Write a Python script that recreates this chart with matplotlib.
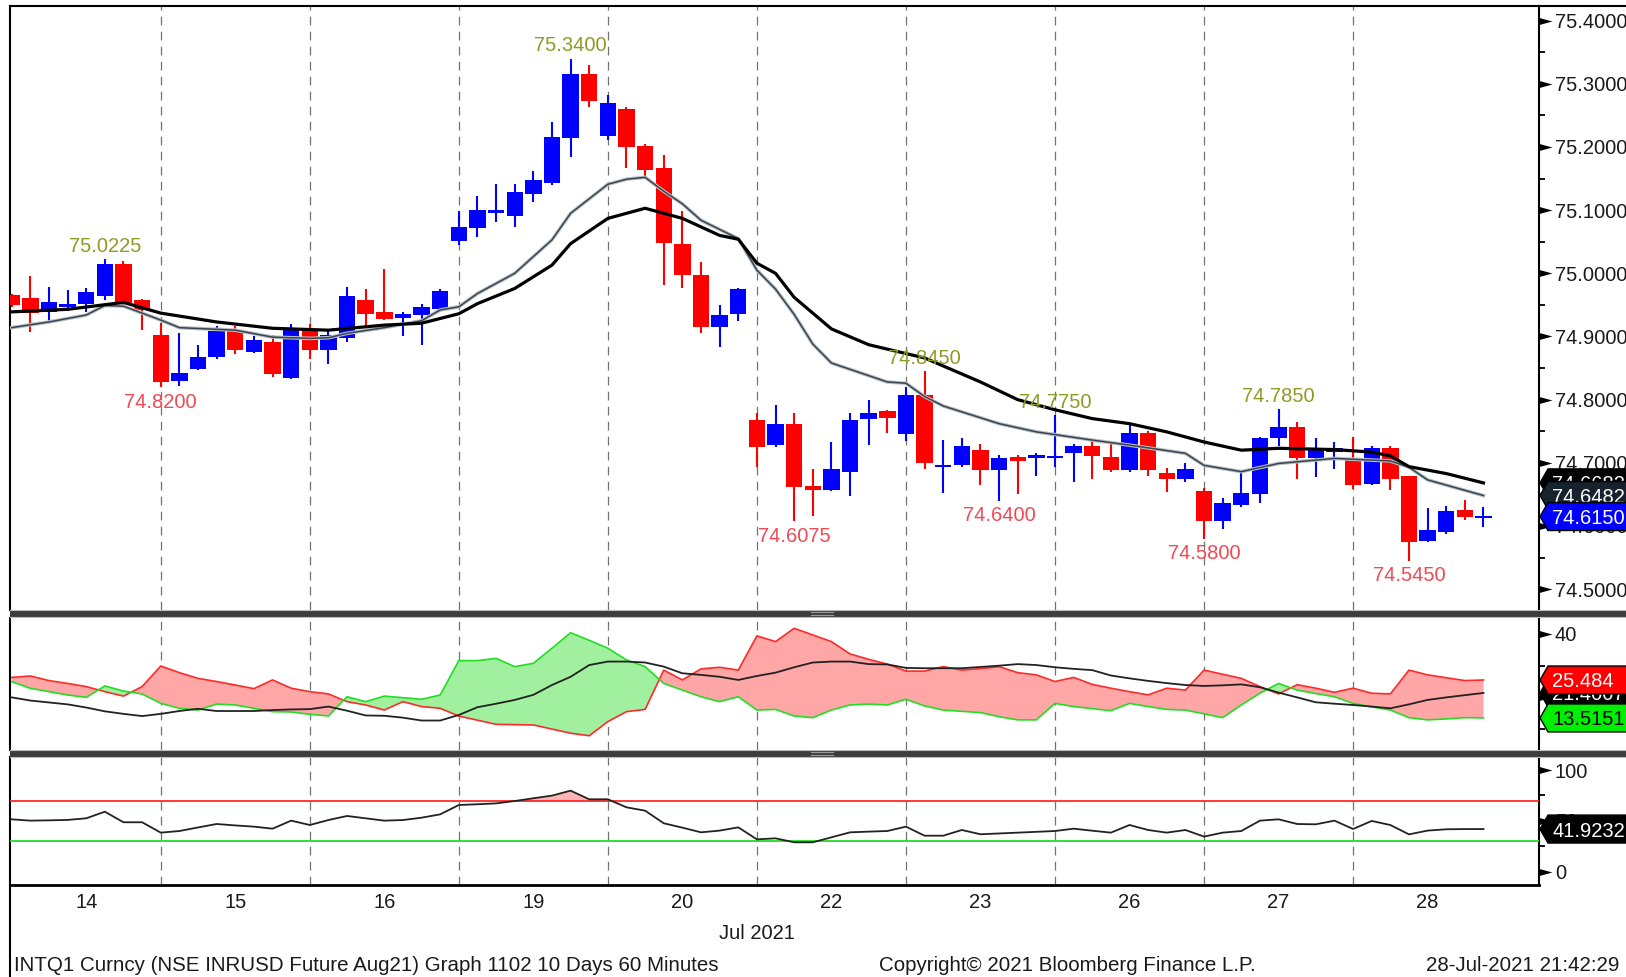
import matplotlib
matplotlib.use('Agg')
import matplotlib.pyplot as plt
import numpy as np
from matplotlib.patches import Polygon, Rectangle
from matplotlib.lines import Line2D
from matplotlib.transforms import IdentityTransform
from matplotlib.ticker import FixedLocator, FormatStrFormatter
import matplotlib.patheffects as pe

plt.rcParams['font.family'] = ['Liberation Sans', 'DejaVu Sans']

W, H = 1626, 977
FS = 14.5
FS_FOOT = 14.8

# ---- data (hourly bars, 8 per day) ----
day_labels = ['14', '15', '16', '19', '20', '22', '23', '26', '27', '28']
bars_per_day = 8

opens = [74.965, 74.961, 74.939, 74.947, 74.951, 74.964, 75.015, 74.958, 74.903, 74.830,
         74.849, 74.867, 74.909, 74.876, 74.892, 74.835, 74.910, 74.878, 74.897, 74.958,
         74.938, 74.929, 74.934, 74.944, 75.051, 75.071, 75.096, 75.091, 75.125, 75.143,
         75.215, 75.315, 75.218, 75.260, 75.202, 75.166, 75.046, 74.998, 74.915, 74.935,
         74.768, 74.728, 74.762, 74.664, 74.657, 74.685, 74.769, 74.782, 74.745, 74.808,
         74.693, 74.696, 74.721, 74.688, 74.710, 74.708, 74.708, 74.715, 74.727, 74.710,
         74.689, 74.748, 74.684, 74.674, 74.656, 74.608, 74.633, 74.651, 74.740, 74.756,
         74.708, 74.717, 74.707, 74.667, 74.724, 74.679, 74.576, 74.590, 74.626, 74.614]
highs = [74.968, 74.996, 74.979, 74.974, 74.976, 75.0225, 75.020, 74.960, 74.921, 74.906,
         74.886, 74.917, 74.917, 74.901, 74.902, 74.920, 74.920, 74.910, 74.979, 74.975,
         75.007, 74.938, 74.952, 74.975, 75.099, 75.122, 75.142, 75.142, 75.162, 75.240,
         75.340, 75.330, 75.282, 75.263, 75.205, 75.188, 75.099, 75.018, 74.950, 74.977,
         74.779, 74.791, 74.779, 74.690, 74.733, 74.779, 74.799, 74.784, 74.820, 74.845,
         74.736, 74.739, 74.730, 74.712, 74.712, 74.716, 74.775, 74.730, 74.738, 74.731,
         74.762, 74.750, 74.692, 74.699, 74.660, 74.644, 74.686, 74.741, 74.785, 74.764,
         74.740, 74.733, 74.741, 74.726, 74.726, 74.679, 74.628, 74.631, 74.641, 74.630]
lows = [74.946, 74.907, 74.924, 74.941, 74.939, 74.958, 74.948, 74.910, 74.820, 74.822,
        74.847, 74.864, 74.872, 74.874, 74.836, 74.833, 74.864, 74.857, 74.892, 74.916,
        74.926, 74.901, 74.886, 74.940, 75.045, 75.057, 75.082, 75.074, 75.113, 75.140,
        75.184, 75.264, 75.211, 75.166, 75.153, 74.981, 74.976, 74.906, 74.883, 74.924,
        74.694, 74.725, 74.6075, 74.616, 74.655, 74.648, 74.728, 74.748, 74.734, 74.691,
        74.653, 74.693, 74.665, 74.640, 74.650, 74.679, 74.693, 74.670, 74.674, 74.686,
        74.685, 74.679, 74.654, 74.670, 74.580, 74.596, 74.630, 74.637, 74.726, 74.674,
        74.677, 74.690, 74.659, 74.665, 74.657, 74.545, 74.574, 74.588, 74.610, 74.599]
closes = [74.950, 74.937, 74.955, 74.952, 74.970, 75.015, 74.952, 74.942, 74.828, 74.842,
          74.868, 74.909, 74.878, 74.895, 74.840, 74.913, 74.878, 74.903, 74.964, 74.935,
          74.928, 74.935, 74.946, 74.972, 75.073, 75.101, 75.101, 75.128, 75.148, 75.216,
          75.315, 75.273, 75.269, 75.200, 75.163, 75.048, 74.998, 74.915, 74.934, 74.975,
          74.725, 74.762, 74.662, 74.657, 74.690, 74.768, 74.779, 74.771, 74.808, 74.699,
          74.696, 74.727, 74.688, 74.707, 74.703, 74.712, 74.711, 74.727, 74.711, 74.688,
          74.748, 74.689, 74.674, 74.690, 74.608, 74.636, 74.653, 74.740, 74.756, 74.708,
          74.720, 74.724, 74.665, 74.724, 74.674, 74.575, 74.594, 74.624, 74.615, 74.615]

# moving averages (at these bars)
ma_slow_x = [0, 3, 6, 8, 11, 14, 17, 20, 22, 24, 25, 27, 29, 30, 32, 34, 36, 38, 39, 40,
             41, 42, 44, 46, 49, 52, 54, 56, 58, 60, 62, 64, 66, 68, 71, 73, 74, 75, 77, 79]
ma_slow = [74.939, 74.943, 74.954, 74.937, 74.923, 74.913, 74.910, 74.918, 74.921, 74.936,
           74.952, 74.976, 75.013, 75.047, 75.087, 75.103, 75.087, 75.060, 75.054, 75.016,
           75.000, 74.962, 74.912, 74.887, 74.866, 74.828, 74.800, 74.784, 74.770, 74.762,
           74.749, 74.733, 74.720, 74.723, 74.721, 74.717, 74.711, 74.694, 74.683, 74.6682]
ma_fast_x = [0, 2, 4, 5, 6, 8, 9, 12, 14, 16, 17, 18, 20, 22, 23, 24, 25, 27, 29, 30,
             32, 33, 34, 35, 36, 37, 39, 40, 41, 42, 43, 44, 47, 48, 49, 50, 53, 55, 58, 60,
             63, 64, 66, 68, 71, 74, 75, 76, 79]
ma_fast = [74.914, 74.923, 74.934, 74.949, 74.948, 74.926, 74.914, 74.910, 74.899, 74.897,
           74.898, 74.905, 74.914, 74.925, 74.942, 74.947, 74.968, 75.000, 75.053, 75.095,
           75.141, 75.149, 75.152, 75.130, 75.110, 75.084, 75.055, 75.005, 74.975, 74.935,
           74.888, 74.858, 74.828, 74.826, 74.805, 74.790, 74.762, 74.749, 74.736, 74.728,
           74.715, 74.696, 74.686, 74.699, 74.707, 74.703, 74.693, 74.673, 74.6482]

hi_bars = [5, 30, 49, 56, 68]
lo_bars = [8, 42, 53, 64, 75]

# DMI panel
di_plus = [26.3, 26.75, 25.3, 24.4, 23.4, 21.8, 20.4, 23.4, 29.9, 27.8,
           26.0, 25.0, 23.9, 22.75, 25.5, 22.9, 21.8, 21.1, 18.65, 17.6,
           16.0, 18.65, 17.1, 16.55, 14.1, 12.8, 11.5, 11.4, 11.3, 10.0,
           8.7, 7.9, 12.35, 15.5, 16.2, 28.6, 25.5, 29.0, 29.5, 28.6,
           39.4, 37.6, 41.8, 39.7, 37.6, 33.7, 32.0, 30.5, 28.3, 28.3,
           29.7, 28.6, 29.1, 29.7, 27.8, 27.1, 25.0, 26.3, 24.1, 22.9,
           21.8, 20.8, 22.9, 22.3, 28.6, 27.3, 26.0, 23.4, 21.1, 24.0,
           22.9, 21.6, 22.9, 21.3, 21.1, 28.6, 27.1, 26.2, 25.3, 25.484]
di_minus = [24.96, 22.86, 21.8, 20.76, 20.0, 23.6, 22.0, 21.07, 18.13, 16.55,
            16.0, 17.9, 17.6, 16.55, 15.5, 15.4, 14.66, 14.13, 20.2, 18.65,
            20.4, 19.9, 19.4, 20.76, 31.6, 31.6, 32.3, 29.7, 30.75, 35.5,
            40.4, 38.0, 35.5, 31.8, 29.7, 24.4, 22.3, 20.2, 18.65, 20.2,
            16.0, 16.2, 14.13, 13.6, 16.0, 17.6, 17.9, 17.6, 19.4, 17.3,
            16.0, 15.6, 15.2, 13.9, 12.9, 12.9, 18.1, 17.1, 16.45, 15.8,
            18.1, 17.1, 16.2, 16.0, 14.8, 13.6, 17.6, 21.3, 24.4, 22.3,
            21.2, 20.2, 18.1, 17.0, 16.0, 13.6, 12.9, 13.2, 13.6, 13.5151]
adx = [20.0, 19.0, 18.4, 17.8, 16.8, 15.6, 14.8, 14.1, 14.8, 15.7,
       16.4, 15.7, 15.7, 15.7, 16.0, 16.2, 16.3, 17.1, 15.8, 14.3,
       14.2, 13.6, 12.7, 12.7, 14.45, 16.9, 18.0, 19.2, 20.8, 23.9,
       26.5, 30.2, 31.3, 31.3, 31.0, 29.7, 27.6, 27.1, 26.5, 25.5,
       26.75, 27.8, 29.5, 31.0, 31.3, 31.3, 30.5, 30.4, 29.3, 29.2,
       29.2, 29.2, 29.6, 30.0, 30.5, 30.2, 29.5, 29.0, 28.6, 26.9,
       26.0, 25.2, 24.5, 23.9, 23.6, 23.8, 24.1, 23.2, 21.5, 20.0,
       18.45, 18.0, 17.6, 17.1, 16.55, 17.8, 19.2, 20.0, 20.7, 21.4007]

# RSI panel
rsi = [51.5, 50.2, 50.5, 50.9, 52.5, 59.0, 48.6, 48.6, 38.4, 40.0,
       43.5, 46.9, 45.5, 44.3, 42.3, 50.2, 45.9, 50.8, 54.8, 52.5,
       50.2, 50.8, 53.1, 56.4, 65.6, 66.3, 67.2, 69.5, 72.2, 74.8,
       79.7, 71.2, 71.2, 63.3, 60.0, 47.6, 43.3, 38.7, 40.4, 43.6,
       31.8, 32.8, 28.9, 28.9, 33.8, 38.7, 39.4, 40.0, 44.3, 35.4,
       35.4, 41.0, 36.8, 37.6, 38.4, 39.2, 40.0, 42.3, 40.3, 38.4,
       45.9, 41.0, 38.4, 41.0, 34.5, 38.4, 40.0, 50.2, 51.5, 46.9,
       46.6, 50.2, 42.0, 49.9, 45.9, 36.7, 40.4, 41.7, 41.9, 41.9232]
rsi_hi, rsi_lo = 70, 30

footer_left = 'INTQ1 Curncy (NSE INRUSD Future Aug21) Graph 1102 10 Days 60 Minutes'
footer_mid = 'Copyright\u00a9 2021 Bloomberg Finance L.P.'
footer_right = '28-Jul-2021 21:42:29'

# ---- figure layout (pixels) ----
fig = plt.figure(figsize=(W / 100, H / 100), dpi=100)
L, R = 10.4, 1539.0


def add_ax(top, bottom):
    return fig.add_axes([L / W, 1 - bottom / H, (R - L) / W, (bottom - top) / H])


ax1 = add_ax(5.5, 610)
ax2 = add_ax(617.5, 750)
ax3 = add_ax(757, 885)

n = len(opens)
x = np.arange(n)
O, Hh, Lo, C = map(np.array, (opens, highs, lows, closes))
for ax in (ax1, ax2, ax3):
    ax.set_xlim(-0.07, 81.98)
    for k in range(1, len(day_labels)):
        ax.axvline(k * bars_per_day, color='#737373', lw=0.9, dashes=(7, 5), zorder=1)
    for s in ax.spines.values():
        s.set_visible(False)
    ax.spines['left'].set_visible(True)
    ax.spines['right'].set_visible(True)
    ax.spines['left'].set_linewidth(1.5)
    ax.spines['right'].set_linewidth(1.5)
    ax.tick_params(axis='x', which='both', length=0, labelbottom=False)
ax1.spines['top'].set_visible(True)
ax1.spines['top'].set_linewidth(1.5)
ax3.spines['bottom'].set_visible(True)
ax3.spines['bottom'].set_linewidth(2)

ax1.set_ylim(74.467, 75.424)
ax2.set_ylim(3.4, 45.2)
ax3.set_ylim(-13.1, 112.8)

# ---- candles ----
up = C >= O
cols = np.where(up, '#0000ff', '#ff0000')
ax1.vlines(x, Lo, Hh, colors=cols, lw=1.5, zorder=3)
body = np.abs(C - O)
bh = np.maximum(body, 0.003)
bb = np.minimum(O, C) - (bh - body) / 2
ax1.bar(x, bh, bottom=bb, width=0.88, color=cols, lw=0, zorder=4)

ax1.plot(ma_fast_x, ma_fast, color='#38444e', lw=1.1, zorder=5,
         path_effects=[pe.Stroke(linewidth=2.6, foreground='#b9c0c6'), pe.Normal()])
ax1.plot(ma_slow_x, ma_slow, color='black', lw=2.3, zorder=6)

for i in hi_bars:
    ax1.annotate(f'{highs[i]:.4f}', xy=(i, highs[i]), xytext=(0, 13), textcoords='offset pixels',
                 ha='center', va='center', color='#8c9c25', fontsize=FS, zorder=7)
for i in lo_bars:
    ax1.annotate(f'{lows[i]:.4f}', xy=(i, lows[i]), xytext=(0, -15), textcoords='offset pixels',
                 ha='center', va='center', color='#f04a55', fontsize=FS, zorder=7)

# ---- DMI ----
p, m = np.array(di_plus), np.array(di_minus)
ax2.fill_between(x, p, m, where=p >= m, interpolate=True, color='#ffa6a6', lw=0, zorder=2)
ax2.fill_between(x, p, m, where=p < m, interpolate=True, color='#a0f0a0', lw=0, zorder=2)
ax2.plot(x, p, color='#ff2a2a', lw=1.2, zorder=4)
ax2.plot(x, m, color='#22dd22', lw=1.2, zorder=4)
ax2.plot(x, adx, color='#222222', lw=1.3, zorder=5)

# ---- RSI ----
r = np.array(rsi)
ax3.fill_between(x, r, rsi_hi, where=r > rsi_hi, interpolate=True, color='#ffb4b4', lw=0, zorder=2)
ax3.fill_between(x, r, rsi_lo, where=r < rsi_lo, interpolate=True, color='#b4f5b4', lw=0, zorder=2)
ax3.axhline(rsi_hi, color='#ff2a2a', lw=1.3, zorder=3)
ax3.axhline(rsi_lo, color='#22dd22', lw=1.3, zorder=3)
ax3.plot(x, r, color='#222222', lw=1.3, zorder=4)

# ---- right axes ----
tri = [(0, 0.27), (1, 0), (0, -0.27)]


def right_axis(ax, majors, minors, fmt):
    ax.yaxis.tick_right()
    ax.yaxis.set_major_locator(FixedLocator(majors))
    ax.yaxis.set_minor_locator(FixedLocator(minors))
    ax.yaxis.set_major_formatter(FormatStrFormatter(fmt))
    ax.tick_params(axis='y', which='major', length=0, pad=11.5, labelsize=FS, labelcolor='#1a1a1a')
    ax.tick_params(axis='y', which='minor', length=4, width=1.3, direction='out', color='black')
    ax.tick_params(axis='y', which='both', left=False)
    for v in majors:
        ax.plot([1.0], [v], transform=ax.get_yaxis_transform(), marker=tri, ms=18.7,
                mew=0, color='black', clip_on=False, zorder=8)


right_axis(ax1, np.round(np.arange(74.5, 75.41, 0.1), 2), np.round(np.arange(74.55, 75.4, 0.1), 2), '%.4f')
right_axis(ax2, [20, 40], [10, 30], '%d')
right_axis(ax3, [0, 50, 100], [25, 75], '%d')

ax3.set_xticks([k * bars_per_day + 4 for k in range(len(day_labels))])
ax3.set_xticklabels(day_labels)
ax3.tick_params(axis='x', labelbottom=True, pad=5.8, labelsize=FS, labelcolor='#1a1a1a')

# ---- value tags on the right ----
zc = [20]


def tag(ax, v, s, fc, tc):
    xd, yd = ax.transData.transform((ax.get_xlim()[1], v))
    h = 28
    verts = [(xd + 1, yd), (xd + 9, yd + h / 2), (W + 5, yd + h / 2), (W + 5, yd - h / 2), (xd + 9, yd - h / 2)]
    fig.add_artist(Polygon(verts, closed=True, fc=fc, ec='black', lw=1,
                           transform=IdentityTransform(), zorder=zc[0]))
    fig.text(xd + 13, yd, s, transform=IdentityTransform(), color=tc, fontsize=FS,
             va='center_baseline', ha='left', zorder=zc[0] + 1)
    zc[0] += 2


tag(ax1, ma_slow[-1], f'{ma_slow[-1]:.4f}', '#000000', 'white')
tag(ax1, ma_fast[-1], f'{ma_fast[-1]:.4f}', '#16222c', 'white')
tag(ax1, closes[-1], f'{closes[-1]:.4f}', '#0000ff', 'white')
tag(ax2, adx[-1], f'{adx[-1]:.4f}', '#000000', 'white')
tag(ax2, di_plus[-1], f'{di_plus[-1]:.3f}', '#ff0000', 'white')
tag(ax2, di_minus[-1], f'{di_minus[-1]:.4f}', '#00ee00', 'black')
tag(ax3, rsi[-1], f'{rsi[-1]:.4f}', '#000000', 'white')

# ---- separators, frame, footer ----
for top in (610, 750):
    fig.add_artist(Rectangle((L, H - top - 7), W - L, 7, fc='#3d3d3d', ec='none',
                             transform=IdentityTransform(), zorder=15))
    for yy in (top, top + 7):
        fig.add_artist(Line2D([L, W], [H - yy, H - yy], color='#bcbcbc', lw=0.8,
                              transform=IdentityTransform(), zorder=16))
    for dy in (2.3, 4.7):
        fig.add_artist(Line2D([811, 833], [H - top - dy, H - top - dy], color='#9a9a9a', lw=0.8,
                              transform=IdentityTransform(), zorder=16))

fig.add_artist(Line2D([R, W], [H - 5.5, H - 5.5], color='black', lw=1.5, transform=IdentityTransform()))
fig.add_artist(Line2D([L, L], [H - 885, 0], color='black', lw=1.5, transform=IdentityTransform()))

xj, _ = ax3.transData.transform((40, 0))
fig.text(xj, H - 939, 'Jul 2021', transform=IdentityTransform(), ha='center', va='baseline',
         fontsize=FS, color='#1a1a1a')
fig.text(14.5, 6, footer_left, transform=IdentityTransform(), ha='left', va='baseline', fontsize=FS_FOOT, color='#1a1a1a')
fig.text(879, 6, footer_mid, transform=IdentityTransform(), ha='left', va='baseline', fontsize=FS_FOOT, color='#1a1a1a')
fig.text(1426, 6, footer_right, transform=IdentityTransform(), ha='left', va='baseline', fontsize=FS_FOOT, color='#1a1a1a')

fig.savefig('out.png', dpi=100, facecolor='white')
